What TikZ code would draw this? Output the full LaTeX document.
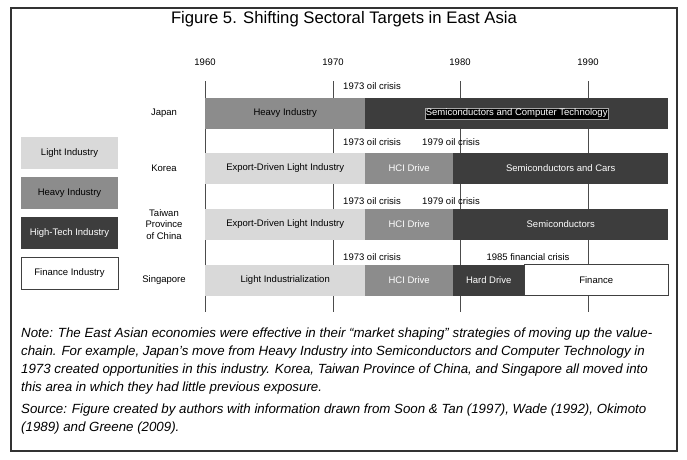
\documentclass[tikz,border=0pt]{standalone}
\usepackage{fontspec}
\setmainfont{Liberation Sans}
\usetikzlibrary{positioning}

\definecolor{lightind}{gray}{0.85}
\definecolor{heavyind}{gray}{0.55}
\definecolor{techind}{gray}{0.24}

\tikzset{
    sector/.style={minimum height=31pt, inner sep=0pt, anchor=west,
                   font=\fontsize{9.5}{11}\selectfont},
    lightbar/.style={sector, fill=lightind, text=black},
    heavybar/.style={sector, fill=heavyind, text=black},
    techbar/.style={sector, fill=techind, text=white},
    financebar/.style={sector, fill=white, draw=black!75, text=black},
    legendbox/.style={minimum width=97pt, minimum height=32pt, inner sep=0pt,
                      font=\fontsize{9.5}{11}\selectfont},
    crisis/.style={font=\fontsize{9.5}{11}\selectfont},
    yearlbl/.style={font=\fontsize{9.5}{11}\selectfont},
    country/.style={font=\fontsize{9.5}{11.5}\selectfont, align=center},
    gridline/.style={draw=black!70, line width=0.7pt},
    notetext/.style={font=\fontsize{13.3}{18}\selectfont\itshape, align=left,
                     inner sep=0pt, anchor=north west},
}

\begin{document}
\begin{tikzpicture}[x=1pt, y=-1pt]
    \useasboundingbox (0,0) rectangle (687,459);
    \draw[black!80, line width=1.5pt] (11,8) rectangle (677,451);

    \node[font=\fontsize{16.7}{18}\selectfont] (title) at (344,19)
        {Figure 5. Shifting Sectoral Targets in East Asia};

    % years and grid lines
    \foreach \yr/\xx in {1960/205, 1970/333, 1980/460, 1990/588} {
        \node[yearlbl] (y\yr) at (\xx,62) {\yr};
        \coordinate (e\yr) at (\xx,312);
        \draw[gridline] (y\yr.south |- 0,81) -- (e\yr);
    }

    % legend
    \node[legendbox, fill=lightind] (lgLight) at (69.5,153) {Light Industry};
    \node[legendbox, fill=heavyind] (lgHeavy) at (69.5,193) {Heavy Industry};
    \node[legendbox, fill=techind, text=white] (lgTech) at (69.5,233) {High-Tech Industry};
    \node[legendbox, fill=white, draw=black!75] (lgFin) at (69.5,273) {Finance Industry};

    % countries
    \node[country] (japan) at (164,113.5) {Japan};
    \node[country] (korea) at (164,168.5) {Korea};
    \node[country] (taiwan) at (164,224.5) {Taiwan\\Province\\of China};
    \node[country] (sing) at (164,280) {Singapore};

    % Japan
    \node[heavybar, minimum width=160pt] (jp1) at (205,113.5) {Heavy Industry};
    \node[techbar, minimum width=303pt] (jp2) at (365,113.5) {};
    \node[fill=black, draw=black!35, line width=0.6pt, inner sep=1pt, text=white,
          font=\fontsize{9.5}{11}\selectfont] (jpSemi) at (jp2.center)
        {Semiconductors and Computer Technology};

    % Korea
    \node[lightbar, minimum width=160pt] (kr1) at (205,168.5) {Export-Driven Light Industry};
    \node[heavybar, minimum width=88pt, text=white] (kr2) at (365,168.5) {HCI Drive};
    \node[techbar, minimum width=215pt] (kr3) at (453,168.5) {Semiconductors and Cars};

    % Taiwan
    \node[lightbar, minimum width=160pt] (tw1) at (205,224.5) {Export-Driven Light Industry};
    \node[heavybar, minimum width=88pt, text=white] (tw2) at (365,224.5) {HCI Drive};
    \node[techbar, minimum width=215pt] (tw3) at (453,224.5) {Semiconductors};

    % Singapore
    \node[lightbar, minimum width=160pt] (sg1) at (205,280) {Light Industrialization};
    \node[heavybar, minimum width=88pt, text=white] (sg2) at (365,280) {HCI Drive};
    \node[techbar, minimum width=71pt] (sg3) at (453,280) {Hard Drive};
    \node[financebar, minimum width=144pt] (sg4) at (524,280) {Finance};

    % crises
    \node[crisis] (cJp73) at (372,86) {1973 oil crisis};
    \node[crisis] (cKr73) at (372,142) {1973 oil crisis};
    \node[crisis] (cKr79) at (451,142) {1979 oil crisis};
    \node[crisis] (cTw73) at (372,201) {1973 oil crisis};
    \node[crisis] (cTw79) at (451,201) {1979 oil crisis};
    \node[crisis] (cSg73) at (372,257) {1973 oil crisis};
    \node[crisis] (cSg85) at (528,257) {1985 financial crisis};

    % note and source
    \node[notetext] (note) at (21,328)
        {Note: The East Asian economies were effective in their “market shaping” strategies of moving up the value-\\
         chain. For example, Japan’s move from Heavy Industry into Semiconductors and Computer Technology in\\
         1973 created opportunities in this industry. Korea, Taiwan Province of China, and Singapore all moved into\\
         this area in which they had little previous exposure.};
    \node[notetext] (source) at ([yshift=-9pt]note.south west)
        {Source: Figure created by authors with information drawn from Soon \& Tan (1997), Wade (1992), Okimoto\\
         (1989) and Greene (2009).};
\end{tikzpicture}
\end{document}
